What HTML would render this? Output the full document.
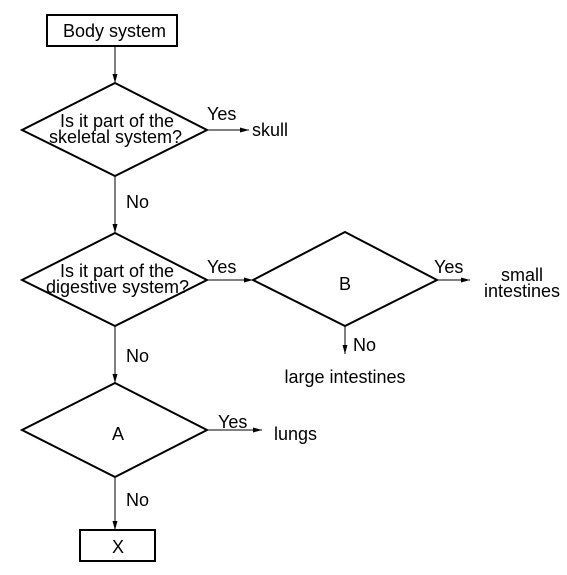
<!DOCTYPE html>
<html><head><style>body{margin:0;background:#fff}svg{display:block}text{font-family:"Liberation Sans",Arial,sans-serif;font-size:18px;fill:#000}</style></head>
<body>
<svg width="567" height="575" viewBox="0 0 567 575">
<defs><marker id="a" markerWidth="10" markerHeight="8" refX="9" refY="4" orient="auto" markerUnits="userSpaceOnUse"><path d="M0,1.5 L9,4 L0,6.5 Z" fill="#000"/></marker></defs>
<g stroke="#000" fill="none">
<rect x="47" y="15" width="130" height="31" stroke-width="2"/>
<line x1="115" y1="46" x2="115" y2="83" marker-end="url(#a)"/>
<polygon points="115,83 207,130 115,176 22,130" stroke-width="2"/>
<line x1="207" y1="130" x2="249" y2="130" marker-end="url(#a)"/>
<line x1="115" y1="176" x2="115" y2="233" marker-end="url(#a)"/>
<polygon points="115,233 207,280 115,326 22,280" stroke-width="2"/>
<line x1="207" y1="280" x2="253" y2="280" marker-end="url(#a)"/>
<polygon points="345,232 437,280 345,326 253,280" stroke-width="2"/>
<line x1="437" y1="280" x2="470" y2="280" marker-end="url(#a)"/>
<line x1="345" y1="326" x2="345" y2="354" marker-end="url(#a)"/>
<line x1="115" y1="326" x2="115" y2="383" marker-end="url(#a)"/>
<polygon points="115,383 207,430 115,477 22,430" stroke-width="2"/>
<line x1="207" y1="430" x2="262" y2="430" marker-end="url(#a)"/>
<line x1="115" y1="477" x2="115" y2="530" marker-end="url(#a)"/>
<rect x="80" y="530" width="75" height="31" stroke-width="2"/>
</g>
<text x="63" y="37">Body system</text>
<text x="60" y="127">Is it part of the</text>
<text x="49" y="143">skeletal system?</text>
<text x="207" y="120">Yes</text>
<text x="252" y="136">skull</text>
<text x="126" y="208">No</text>
<text x="60" y="277">Is it part of the</text>
<text x="46" y="293">digestive system?</text>
<text x="207" y="273">Yes</text>
<text x="339" y="290">B</text>
<text x="434" y="273">Yes</text>
<text x="522" y="281" text-anchor="middle">small</text>
<text x="522" y="297" text-anchor="middle">intestines</text>
<text x="353" y="351">No</text>
<text x="345" y="383" text-anchor="middle">large intestines</text>
<text x="126" y="362">No</text>
<text x="112" y="440">A</text>
<text x="218" y="428">Yes</text>
<text x="274" y="440">lungs</text>
<text x="126" y="506">No</text>
<text x="112" y="553">X</text>
</svg>
</body></html>
